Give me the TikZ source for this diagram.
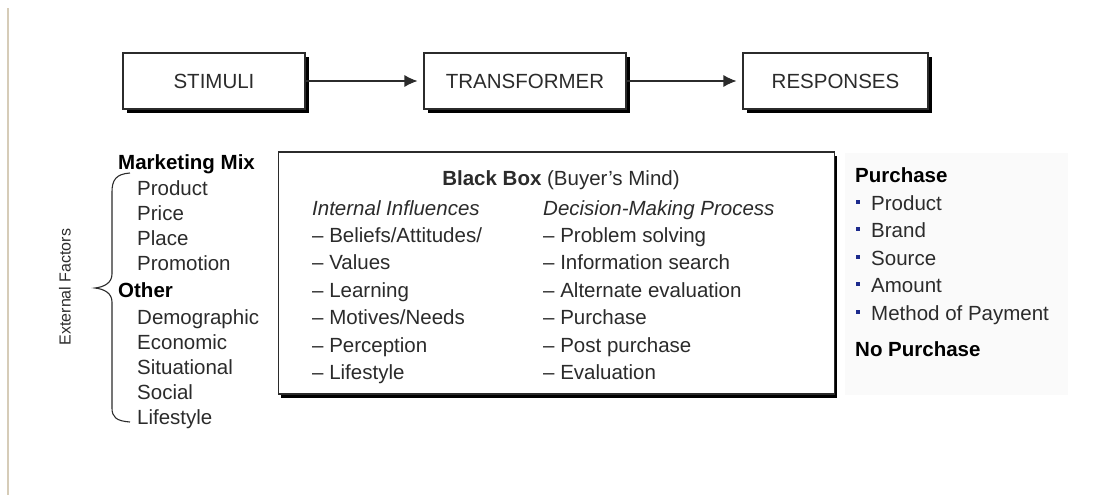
\documentclass[tikz,border=0pt]{standalone}
\usepackage{fontspec}
\setmainfont{Liberation Sans}
\usepackage{tikz}
\usetikzlibrary{arrows.meta,shadows}
\definecolor{ink}{HTML}{2B2B2B}
\definecolor{edgetan}{HTML}{D6CCB8}
\definecolor{dotblue}{HTML}{1C2A8C}
\newcommand\txtsize{\fontsize{20.5}{24}\selectfont}
\tikzset{
  stagebox/.style={draw=ink,line width=1.1pt,fill=white,minimum height=56pt,inner sep=0pt,text=ink,font=\txtsize,
    drop shadow={shadow xshift=4pt,shadow yshift=-4pt,fill=black,opacity=1}},
  mindbox/.style={draw=ink,line width=1.1pt,fill=white,inner sep=0pt,
    drop shadow={shadow xshift=2pt,shadow yshift=-4pt,fill=black,opacity=1}},
  item/.style={anchor=west,inner sep=0pt,text height=14pt,text depth=0pt,text=ink,font=\txtsize},
  heading/.style={item,text=black,font=\txtsize\bfseries},
  flow/.style={-{Latex[length=13pt,width=12pt]},line width=1.1pt,ink,shorten >=6pt},
  bulletsq/.style={fill=dotblue,minimum size=4pt,inner sep=0pt}
}
\begin{document}
\begin{tikzpicture}[x=1pt,y=-1pt]
\useasboundingbox (0,0) rectangle (1106,498);
\draw[edgetan,line width=2.5pt] (8,8) -- (8,495);
\fill[black!2] (845,153) rectangle (1068,395);

% stimuli -> transformer -> responses
\node[stagebox,minimum width=182pt] (stim) at (214,81) {STIMULI};
\node[stagebox,minimum width=202pt] (trans) at (525,81) {TRANSFORMER};
\node[stagebox,minimum width=185pt] (resp) at (835.5,81) {RESPONSES};
\draw[flow] (stim) -- (trans);
\draw[flow] (trans) -- (resp);

% external factors
\node[heading] (mix) at (118,162) {Marketing Mix};
\foreach \lab [count=\i from 0] in {Product,Price,Place,Promotion}
  \node[item] (mix\i) at (137,188+25*\i) {\lab};
\node[heading] (other) at (118,290) {Other};
\foreach \lab [count=\i from 0] in {Demographic,Economic,Situational,Social,Lifestyle}
  \node[item] (oth\i) at (137,317+25*\i) {\lab};
\draw[ink,line width=1.1pt] (130,173) .. controls (116,174) and (112,180) .. (112,192) -- (112,274)
  .. controls (112,283) and (104,287) .. (95,288) .. controls (104,289) and (112,293) .. (112,302)
  -- (112,408) .. controls (112,417) and (116,421) .. (130,422);
\node[rotate=90,text=ink,font=\fontsize{16}{19}\selectfont] (ext) at (65,287) {External Factors};

% black box
\node[mindbox,minimum width=556pt,minimum height=242pt] (bbox) at (556.5,273) {};
\node[text=ink,font=\txtsize,inner sep=0pt] (bbtitle) at (561,180) {\textbf{Black Box} (Buyer's Mind)};
\node[item,font=\txtsize\itshape] (intl) at (312,208) {Internal Influences};
\node[item,font=\txtsize\itshape] (dmp) at (543,208) {Decision-Making Process};
\foreach \lab [count=\i from 0] in {{Beliefs/Attitudes/},Values,Learning,{Motives/Needs},Perception,Lifestyle}
  \node[item] (inf\i) at (312,235+27.5*\i) {\textendash\ \lab};
\foreach \lab [count=\i from 0] in {Problem solving,Information search,Alternate evaluation,Purchase,Post purchase,Evaluation}
  \node[item] (dec\i) at (543,235+27.5*\i) {\textendash\ \lab};

% responses
\node[heading] (buy) at (855,175) {Purchase};
\foreach \lab [count=\i from 0] in {Product,Brand,Source,Amount,Method of Payment}{
  \node[bulletsq] (sq\i) at (858,201.5+27.5*\i) {};
  \node[item] (pick\i) at (871,203+27.5*\i) {\lab};
}
\node[heading] (nobuy) at (855,349) {No Purchase};
\end{tikzpicture}
\end{document}
